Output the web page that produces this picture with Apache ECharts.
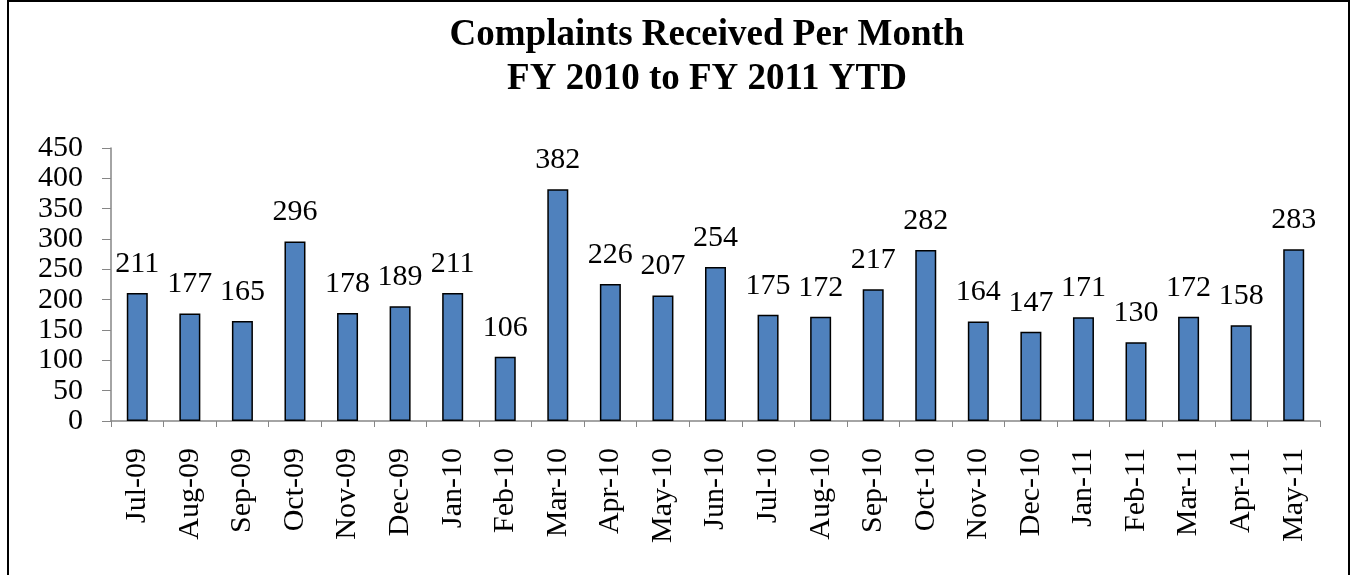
<!DOCTYPE html>
<html>
<head>
<meta charset="utf-8">
<script src="https://cdn.jsdelivr.net/npm/echarts@6/dist/echarts.min.js"></script>
<style>
html, body { margin: 0; padding: 0; background: #fff; }
#chart { width: 1353px; height: 575px; }
</style>
</head>
<body>
<div id="chart"></div>
<script>
// months and complaints received
var months = ['Jul-09', 'Aug-09', 'Sep-09', 'Oct-09', 'Nov-09', 'Dec-09', 'Jan-10', 'Feb-10',
	'Mar-10', 'Apr-10', 'May-10', 'Jun-10', 'Jul-10', 'Aug-10', 'Sep-10', 'Oct-10',
	'Nov-10', 'Dec-10', 'Jan-11', 'Feb-11', 'Mar-11', 'Apr-11', 'May-11'];
var complaints = [211, 177, 165, 296, 178, 189, 211, 106, 382, 226, 207, 254, 175, 172,
	217, 282, 164, 147, 171, 130, 172, 158, 283];
var yTicks = [0, 50, 100, 150, 200, 250, 300, 350, 400, 450];

var serif = '"Liberation Serif", "Times New Roman", serif';
var axisGray = '#868686';

var myChart = echarts.init(document.getElementById('chart'));
var option = {
	animation: false,
	title: {
		text: 'Complaints Received Per Month\nFY 2010 to FY 2011 YTD',
		left: 702,
		top: 8,
		textAlign: 'center',
		textStyle: {
			fontFamily: serif,
			fontWeight: 'bold',
			fontSize: 37,
			lineHeight: 44,
			color: '#000'
		}
	},
	graphic: [{
		type: 'rect',
		shape: { x: 8, y: 1, width: 1341, height: 585 },
		style: { fill: 'none', stroke: '#000', lineWidth: 2 },
		silent: true
	}],
	grid: {
		left: 111,
		right: 33,
		top: 148,
		bottom: 154
	},
	xAxis: {
		type: 'category',
		data: months,
		axisLine: { lineStyle: { color: axisGray, width: 1.5 } },
		axisTick: { show: true, alignWithLabel: false, length: 6, lineStyle: { color: axisGray } },
		axisLabel: {
			rotate: 90,
			interval: 0,
			margin: 27,
			fontFamily: serif,
			fontSize: 30,
			color: '#000'
		}
	},
	yAxis: {
		type: 'value',
		min: yTicks[0],
		max: yTicks[yTicks.length - 1],
		interval: 50,
		splitLine: { show: false },
		axisLine: { show: true, lineStyle: { color: axisGray, width: 1.5 } },
		axisTick: { show: true, length: 9, lineStyle: { color: axisGray } },
		axisLabel: {
			margin: 28,
			fontFamily: serif,
			fontSize: 30,
			color: '#000'
		}
	},
	series: [{
		name: 'Complaints',
		type: 'bar',
		data: complaints,
		barWidth: 21,
		itemStyle: {
			color: '#4F81BD',
			borderColor: '#000',
			borderWidth: 1.5
		},
		label: {
			show: true,
			position: 'top',
			distance: 14,
			fontFamily: serif,
			fontSize: 30,
			color: '#000'
		}
	}]
};
myChart.setOption(option);
</script>
</body>
</html>
